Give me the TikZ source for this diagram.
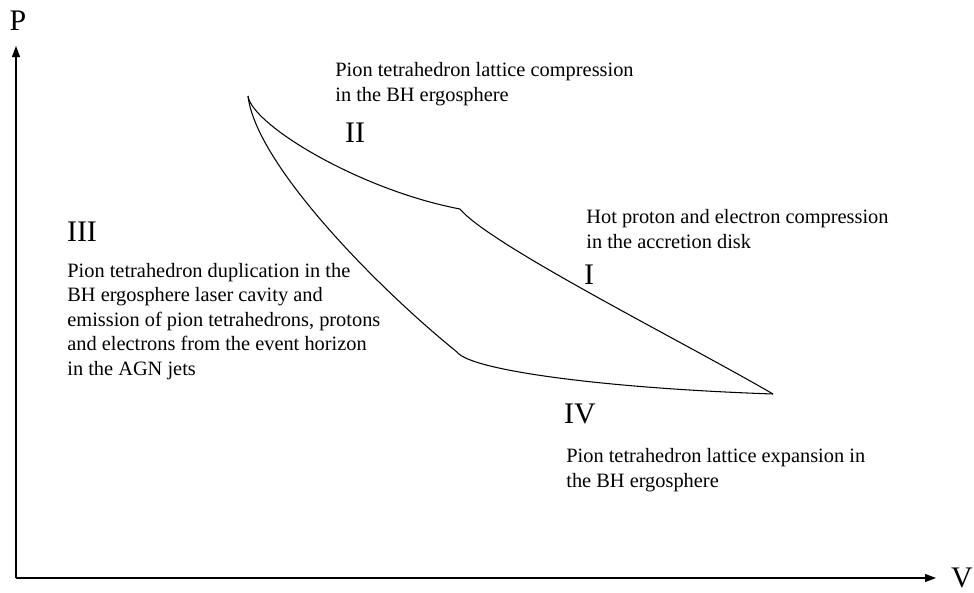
\documentclass[tikz,border=0pt]{standalone}
\usepackage{fontspec}
\setmainfont{Liberation Serif}
\usetikzlibrary{arrows.meta}

\begin{document}
\begin{tikzpicture}[x=0.02cm,y=-0.02cm,
  txt/.style={font=\fontsize{11.6}{13.9}\selectfont,align=left,inner sep=0pt,
    anchor=base west},
  stage/.style={font=\fontsize{17}{20}\selectfont,inner sep=0pt},
  axlbl/.style={font=\fontsize{17}{20}\selectfont,inner sep=0pt},
  axis/.style={line width=0.6pt,-{Triangle[length=2.2mm,width=1.6mm]}},
  cyc/.style={line width=0.6pt}]
\useasboundingbox (0,0) rectangle (974,592);

% axes
\coordinate (orig) at (16,578);
\coordinate (ptip) at (16,46);
\coordinate (vtip) at (936,578);
\node[axlbl] (pax) at (18,21) {P};
\node[axlbl] (vax) at (962,578) {V};
\draw[axis] (orig) -- (ptip);
\draw[axis] (orig) -- (vtip);

% cycle
\coordinate (cusp) at (248,96);
\coordinate (kinkU) at (460,209);
\coordinate (kinkL) at (457,352);
\coordinate (endR) at (773,394);
\draw[cyc] (cusp) .. controls (252,125) and (360,190) .. (kinkU)
  .. controls (490,245) and (680,340) .. (endR);
\draw[cyc] (cusp) .. controls (256,165) and (380,290) .. (kinkL)
  .. controls (470,370) and (600,388) .. (endR);

% stages
\node[stage] (sI) at (589,275) {I};
\node[stage] (sII) at (355,133) {II};
\node[stage] (sIII) at (82,232) {III};
\node[stage] (sIV) at (580,414) {IV};

% anchors sit on the last line
\node[txt] (comp) at (335,101)
  {Pion tetrahedron lattice compression\\in the BH ergosphere};
\node[txt] (hot) at (586,248)
  {Hot proton and electron compression\\in the accretion disk};
\node[txt] (dup) at (67,375)
  {Pion tetrahedron duplication in the\\BH ergosphere laser cavity and\\
   emission of pion tetrahedrons, protons\\and electrons from the event horizon\\
   in the AGN jets};
\node[txt] (expn) at (566,487)
  {Pion tetrahedron lattice expansion in\\the BH ergosphere};
\end{tikzpicture}
\end{document}
